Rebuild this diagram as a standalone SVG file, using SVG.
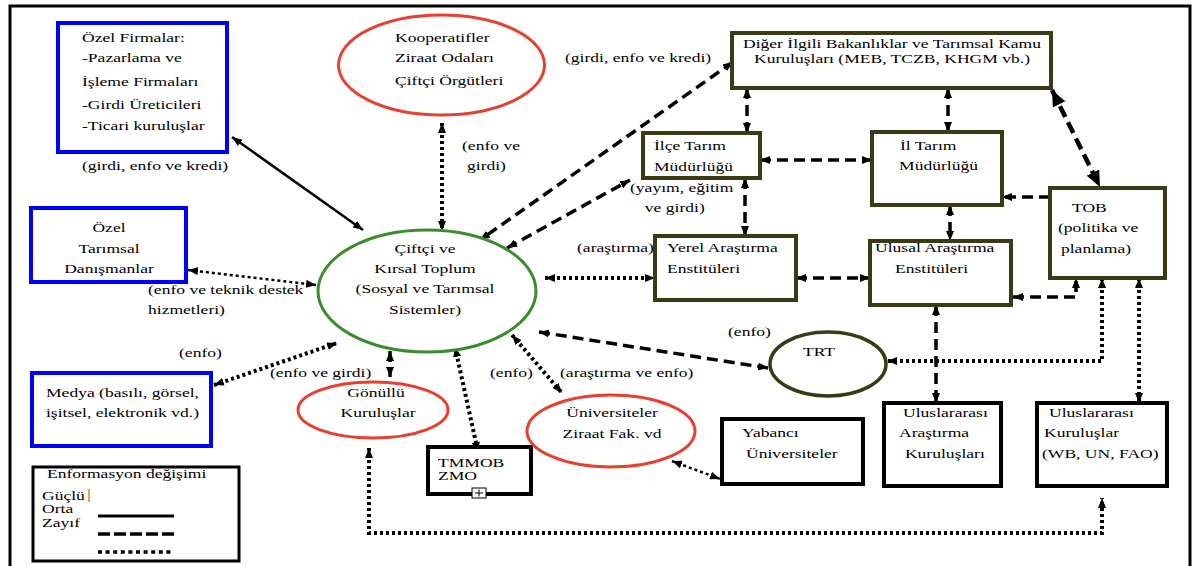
<svg xmlns="http://www.w3.org/2000/svg" width="1200" height="566" viewBox="0 0 1200 566">
<style>
.t{font-family:"Liberation Serif","Times New Roman",serif;font-size:13px;fill:#000}
.m{text-anchor:middle}
.bb{fill:#fff;stroke:#0000ff;stroke-width:4}
.ob{fill:#fff;stroke:#3a3a14;stroke-width:4}
.kb{fill:#fff;stroke:#000;stroke-width:4}
.re{fill:#fff;stroke:#e8402f;stroke-width:3}
.ge{fill:#fff;stroke:#3d8b2f;stroke-width:3}
.oe{fill:#fff;stroke:#3a3a14;stroke-width:3.5}
.c{fill:none;stroke:#000}
.sl{stroke-width:2.5}
.da{stroke-width:3.5;stroke-dasharray:11 6}
.do{stroke-width:4;stroke-dasharray:3 3}
.dt{stroke-width:2.5;stroke-dasharray:3 3}
.a{marker-start:url(#ah);marker-end:url(#ah)}
.e{marker-end:url(#ah)}
</style>
<defs>
<marker id="ah" viewBox="0 0 10 8" refX="10" refY="4" markerWidth="10" markerHeight="8" markerUnits="userSpaceOnUse" orient="auto-start-reverse"><path d="M0,0 L10,4 L0,8 z" fill="#000"/></marker>
<marker id="ahb" viewBox="0 0 16 14" refX="16" refY="7" markerWidth="16" markerHeight="14" markerUnits="userSpaceOnUse" orient="auto-start-reverse"><path d="M0,0 L16,7 L0,14 z" fill="#000"/></marker>
</defs>
<rect x="10" y="6" width="1180" height="600" fill="#fff" stroke="#000" stroke-width="3"/>

<g id="connectors">
<line class="c sl a" x1="232" y1="137" x2="363" y2="230"/>
<line class="c do a" x1="442" y1="123" x2="442" y2="231"/>
<line class="c dt a" x1="188" y1="270" x2="316" y2="285"/>
<line class="c do a" x1="214" y1="385" x2="337" y2="343"/>
<line class="c da a" x1="390" y1="351" x2="390" y2="377"/>
<line class="c do a" x1="455" y1="347" x2="478" y2="452"/>
<line class="c do a" x1="512" y1="335" x2="562" y2="393"/>
<line class="c dt a" x1="672" y1="461" x2="720" y2="479"/>
<line class="c da a" x1="539" y1="332" x2="768" y2="368"/>
<line class="c do a" x1="545" y1="278" x2="655" y2="278"/>
<line class="c da a" x1="733" y1="62" x2="480" y2="240"/>
<line class="c da a" x1="507" y1="248" x2="630" y2="180"/>
<line class="c da a" x1="747" y1="88" x2="747" y2="133"/>
<line class="c da a" x1="948" y1="88" x2="948" y2="132"/>
<line class="c" x1="1052" y1="90" x2="1100" y2="187" stroke-width="4.5" stroke-dasharray="12 6" marker-start="url(#ahb)" marker-end="url(#ahb)"/>
<line class="c da a" x1="760" y1="160" x2="872" y2="160"/>
<line class="c da e" x1="1050" y1="197" x2="1002" y2="197"/>
<line class="c da a" x1="745" y1="178" x2="745" y2="236"/>
<line class="c da a" x1="796" y1="278" x2="870" y2="278"/>
<line class="c da a" x1="950" y1="205" x2="950" y2="241"/>
<polyline class="c da a" points="1013,297 1076,297 1076,278"/>
<polyline class="c do a" points="1102,278 1102,361 887,361"/>
<line class="c do a" x1="1139" y1="278" x2="1139" y2="403"/>
<line class="c da a" x1="936" y1="305" x2="936" y2="403"/>
<polyline class="c do a" points="369,448 369,533 1102,533 1102,498"/>
</g>

<g id="ozel-firmalar">
<rect class="bb" x="58" y="23" width="169" height="129"/>
<text class="t" transform="matrix(1.35,0,0,1,82,0)"><tspan x="0" y="42">Özel Firmalar:</tspan><tspan x="0" y="62">-Pazarlama ve</tspan><tspan x="0" y="86">İşleme Firmaları</tspan><tspan x="0" y="109">-Girdi Üreticileri</tspan><tspan x="0" y="130">-Ticari kuruluşlar</tspan></text>
</g>

<g id="kooperatifler">
<ellipse class="re" cx="441.5" cy="65" rx="103" ry="50"/>
<text class="t" transform="matrix(1.35,0,0,1,395,0)"><tspan x="0" y="42">Kooperatifler</tspan><tspan x="0" y="62">Ziraat Odaları</tspan><tspan x="0" y="85">Çiftçi Örgütleri</tspan></text>
</g>

<g id="diger">
<rect class="ob" x="732" y="33" width="319" height="55"/>
<text class="t m" transform="matrix(1.35,0,0,1,892,0)"><tspan x="0" y="48">Diğer İlgili Bakanlıklar ve Tarımsal Kamu</tspan><tspan x="0" y="63">Kuruluşları (MEB, TCZB, KHGM vb.)</tspan></text>
</g>

<g id="ilce">
<rect class="ob" x="643" y="133" width="117" height="45"/>
<text class="t" transform="matrix(1.35,0,0,1,654,0)"><tspan x="0" y="150">İlçe Tarım</tspan><tspan x="0" y="171">Müdürlüğü</tspan></text>
</g>

<g id="il">
<rect class="ob" x="872" y="132" width="130" height="73"/>
<text class="t" transform="matrix(1.35,0,0,1,900,0)"><tspan x="0" y="150">İl Tarım</tspan><tspan x="-0.7" y="170">Müdürlüğü</tspan></text>
</g>

<g id="tob">
<rect class="ob" x="1050" y="188" width="115" height="90"/>
<text class="t" transform="matrix(1.35,0,0,1,1058,0)"><tspan x="10.4" y="212">TOB</tspan><tspan x="0" y="232">(politika ve</tspan><tspan x="2.2" y="253">planlama)</tspan></text>
</g>

<g id="yerel">
<rect class="ob" x="655" y="236" width="141" height="64"/>
<text class="t" transform="matrix(1.35,0,0,1,667,0)"><tspan x="0" y="252">Yerel Araştırma</tspan><tspan x="0" y="273">Enstitüleri</tspan></text>
</g>

<g id="ulusal">
<rect class="ob" x="870" y="241" width="141" height="64"/>
<text class="t" transform="matrix(1.35,0,0,1,875,0)"><tspan x="0" y="252">Ulusal Araştırma</tspan><tspan x="14.8" y="273">Enstitüleri</tspan></text>
</g>

<g id="danismanlar">
<rect class="bb" x="31" y="208" width="155" height="74"/>
<text class="t m" transform="matrix(1.35,0,0,1,109,0)"><tspan x="0" y="232">Özel</tspan><tspan x="0" y="253">Tarımsal</tspan><tspan x="0" y="273">Danışmanlar</tspan></text>
</g>

<g id="ciftci">
<ellipse class="ge" cx="427" cy="291" rx="109" ry="61"/>
<text class="t m" transform="matrix(1.35,0,0,1,425,0)"><tspan x="0" y="253">Çiftçi ve</tspan><tspan x="0" y="273">Kırsal Toplum</tspan><tspan x="0" y="293">(Sosyal ve Tarımsal</tspan><tspan x="0" y="314">Sistemler)</tspan></text>
</g>

<g id="medya">
<rect class="bb" x="32" y="373" width="179" height="73"/>
<text class="t" transform="matrix(1.35,0,0,1,46,0)"><tspan x="0" y="397">Medya (basılı, görsel,</tspan><tspan x="0" y="417">işitsel, elektronik vd.)</tspan></text>
</g>

<g id="gonullu">
<ellipse class="re" cx="373" cy="410" rx="75" ry="28"/>
<text class="t m" transform="matrix(1.35,0,0,1,376,0)"><tspan x="0" y="397">Gönüllü</tspan><tspan x="1.5" y="417">Kuruluşlar</tspan></text>
</g>

<g id="tmmob">
<rect class="kb" x="428" y="447" width="103" height="47"/>
<text class="t" transform="matrix(1.35,0,0,1,438,0)"><tspan x="0" y="467">TMMOB</tspan><tspan x="0" y="480">ZMO</tspan></text>
<rect x="472" y="488" width="14" height="10" fill="#fff" stroke="#000" stroke-width="1"/>
<path d="M475,493 H483 M479,489.5 V496.5" stroke="#000" stroke-width="1"/>
</g>

<g id="universiteler">
<ellipse class="re" cx="611" cy="431" rx="84" ry="36"/>
<text class="t m" transform="matrix(1.35,0,0,1,612,0)"><tspan x="0" y="417">Üniversiteler</tspan><tspan x="0" y="438">Ziraat Fak. vd</tspan></text>
</g>

<g id="trt">
<ellipse class="oe" cx="828" cy="364" rx="58" ry="32"/>
<text class="t m" transform="matrix(1.35,0,0,1,819,0)"><tspan x="0" y="356">TRT</tspan></text>
</g>

<g id="yabanci">
<rect class="kb" x="722" y="419" width="141" height="65"/>
<text class="t" transform="matrix(1.35,0,0,1,742,0)"><tspan x="0" y="437">Yabancı</tspan><tspan x="3" y="458">Üniversiteler</tspan></text>
</g>

<g id="ul-arastirma">
<rect class="kb" x="884" y="403" width="117" height="83"/>
<text class="t" transform="matrix(1.35,0,0,1,899,0)"><tspan x="3" y="417">Uluslararası</tspan><tspan x="0" y="437">Araştırma</tspan><tspan x="4.4" y="458">Kuruluşları</tspan></text>
</g>

<g id="ul-kuruluslar">
<rect class="kb" x="1037" y="403" width="130" height="83"/>
<text class="t" transform="matrix(1.35,0,0,1,1042,0)"><tspan x="5.2" y="417">Uluslararası</tspan><tspan x="1.5" y="437">Kuruluşlar</tspan><tspan x="0" y="458">(WB, UN, FAO)</tspan></text>
</g>

<g id="labels">
<text class="t" transform="matrix(1.35,0,0,1,82,170)">(girdi, enfo ve kredi)</text>
<text class="t" transform="matrix(1.35,0,0,1,565,62)">(girdi, enfo ve kredi)</text>
<text class="t" transform="matrix(1.35,0,0,1,462,0)"><tspan x="0" y="150">(enfo ve</tspan><tspan x="3.7" y="170">girdi)</tspan></text>
<text class="t" transform="matrix(1.35,0,0,1,630,0)"><tspan x="0" y="192">(yayım, eğitim</tspan><tspan x="11" y="212">ve girdi)</tspan></text>
<text class="t" transform="matrix(1.35,0,0,1,577,252)">(araştırma)</text>
<text class="t" transform="matrix(1.35,0,0,1,148,0)"><tspan x="0" y="294">(enfo ve teknik destek</tspan><tspan x="0" y="314">hizmetleri)</tspan></text>
<text class="t" transform="matrix(1.35,0,0,1,179,357)">(enfo)</text>
<text class="t" transform="matrix(1.35,0,0,1,270,377)">(enfo ve girdi)</text>
<text class="t" transform="matrix(1.35,0,0,1,490,377)">(enfo)</text>
<text class="t" transform="matrix(1.35,0,0,1,560,377)">(araştırma ve enfo)</text>
<text class="t" transform="matrix(1.35,0,0,1,728,336)">(enfo)</text>
</g>

<g id="legend">
<rect x="33" y="467" width="206" height="94" fill="#fff" stroke="#000" stroke-width="3"/>
<text class="t" transform="matrix(1.35,0,0,1,47,478)">Enformasyon değişimi</text>
<text class="t" transform="matrix(1.35,0,0,1,42,0)"><tspan x="0" y="500">Güçlü</tspan><tspan x="0" y="513">Orta</tspan><tspan x="0" y="527">Zayıf</tspan></text>
<rect x="88" y="489" width="2" height="13" fill="#f5a040"/>
<line class="c" x1="98" y1="516" x2="174" y2="516" stroke-width="3"/>
<line class="c" x1="98" y1="534" x2="174" y2="534" stroke-width="3.5" stroke-dasharray="12 4"/>
<line class="c" x1="98" y1="552" x2="174" y2="552" stroke-width="3.5" stroke-dasharray="4 3.6"/>
</g>
</svg>
